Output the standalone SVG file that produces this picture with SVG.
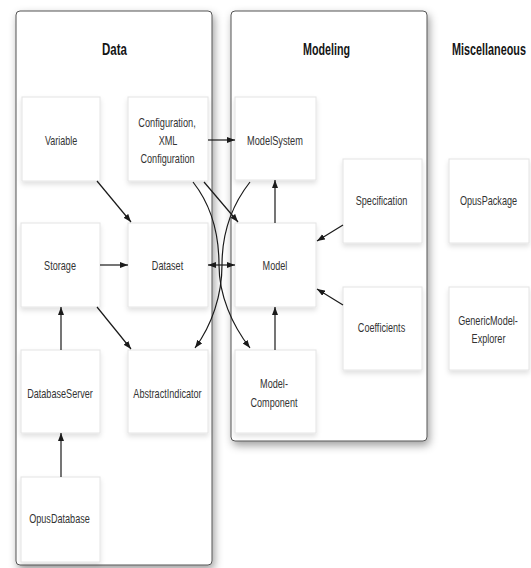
<svg xmlns="http://www.w3.org/2000/svg" width="531" height="568" viewBox="0 0 531 568">
<defs>
<filter id="panelShadow" x="-10%" y="-10%" width="130%" height="130%">
<feDropShadow dx="2" dy="4" stdDeviation="4" flood-color="#000" flood-opacity="0.38"/>
</filter>
<filter id="nodeShadow" x="-15%" y="-15%" width="140%" height="140%">
<feDropShadow dx="0" dy="3" stdDeviation="2.5" flood-color="#000" flood-opacity="0.12"/>
</filter>
<marker id="arr" markerUnits="userSpaceOnUse" markerWidth="9" markerHeight="7" refX="8" refY="3" orient="auto-start-reverse">
<path d="M0,0 L8,3 L0,6 z" fill="#1a1a1a"/>
</marker>
</defs>
<style>
.panel{fill:#fff;stroke:#555;stroke-width:1;filter:url(#panelShadow)}
.node rect{fill:#fff;stroke:#e4e4e4;stroke-width:1;filter:url(#nodeShadow)}
.title{font-family:"Liberation Sans",Arial,sans-serif;font-weight:bold;font-size:16px;fill:#151515;text-anchor:middle}
.lbl{font-family:"Liberation Sans",Arial,sans-serif;font-size:13px;fill:#333;text-anchor:middle}
.conn path{fill:none;stroke:#1a1a1a;stroke-width:1.2}
</style>
<rect width="531" height="568" fill="#fff"/>
<g id="panels">
<rect class="panel" x="16" y="11" width="196" height="554" rx="4"/>
<rect class="panel" x="231" y="11" width="196" height="430" rx="4"/>
</g>
<g id="titles">
<text class="title" transform="translate(114.5,55) scale(0.72,1)">Data</text>
<text class="title" transform="translate(326.5,55) scale(0.67,1)">Modeling</text>
<text class="title" transform="translate(489,55) scale(0.676,1)">Miscellaneous</text>
</g>
<g id="variable" class="node"><rect x="22" y="97" width="78" height="84"/><text class="lbl" transform="translate(61,144.5) scale(0.69,1)">Variable</text></g>
<g id="configuration" class="node"><rect x="128" y="97" width="80" height="84"/>
<text class="lbl" transform="translate(167,126.5) scale(0.71,1)">Configuration,</text>
<text class="lbl" transform="translate(168,144.5) scale(0.7,1)">XML</text>
<text class="lbl" transform="translate(167.5,162.5) scale(0.7,1)">Configuration</text></g>
<g id="storage" class="node"><rect x="21" y="223" width="79" height="84"/><text class="lbl" transform="translate(60,269.5) scale(0.7,1)">Storage</text></g>
<g id="dataset" class="node"><rect x="128" y="223" width="80" height="84"/><text class="lbl" transform="translate(167.5,269.5) scale(0.7,1)">Dataset</text></g>
<g id="databaseserver" class="node"><rect x="21" y="350" width="79" height="83"/><text class="lbl" transform="translate(60,397.5) scale(0.7,1)">DatabaseServer</text></g>
<g id="abstractindicator" class="node"><rect x="128" y="350" width="80" height="83"/><text class="lbl" transform="translate(167.5,397.5) scale(0.7,1)">AbstractIndicator</text></g>
<g id="opusdatabase" class="node"><rect x="21" y="477" width="79" height="85"/><text class="lbl" transform="translate(59.5,522.5) scale(0.7,1)">OpusDatabase</text></g>
<g id="modelsystem" class="node"><rect x="235" y="97" width="81" height="83"/><text class="lbl" transform="translate(275,144.5) scale(0.71,1)">ModelSystem</text></g>
<g id="model" class="node"><rect x="235" y="223" width="81" height="84"/><text class="lbl" transform="translate(275,269.5) scale(0.7,1)">Model</text></g>
<g id="modelcomponent" class="node"><rect x="235" y="350" width="81" height="83"/>
<text class="lbl" transform="translate(274,387.5) scale(0.7,1)">Model-</text>
<text class="lbl" transform="translate(274,406.5) scale(0.7,1)">Component</text></g>
<g id="specification" class="node"><rect x="343" y="159" width="79" height="84"/><text class="lbl" transform="translate(381.5,204.5) scale(0.7,1)">Specification</text></g>
<g id="coefficients" class="node"><rect x="343" y="287" width="79" height="83"/><text class="lbl" transform="translate(381.5,331.5) scale(0.7,1)">Coefficients</text></g>
<g id="opuspackage" class="node"><rect x="449" y="159" width="80" height="84"/><text class="lbl" transform="translate(488.5,204.5) scale(0.7,1)">OpusPackage</text></g>
<g id="genericmodelexplorer" class="node"><rect x="449" y="287" width="80" height="83"/>
<text class="lbl" transform="translate(488,324.5) scale(0.7,1)">GenericModel-</text>
<text class="lbl" transform="translate(488.5,342.5) scale(0.7,1)">Explorer</text></g>
<g id="connectors" class="conn">
<path d="M208,140 L235,140" marker-end="url(#arr)"/>
<path d="M97,181 L131,222" marker-end="url(#arr)"/>
<path d="M100,265 L128,265" marker-end="url(#arr)"/>
<path d="M97,307 L131,349" marker-end="url(#arr)"/>
<path d="M61,350 L61,307" marker-end="url(#arr)"/>
<path d="M61,477 L61,433" marker-end="url(#arr)"/>
<path d="M208,265 L235,265" marker-start="url(#arr)" marker-end="url(#arr)"/>
<path d="M204,182 L238,222" marker-end="url(#arr)"/>
<path d="M193,182 C215,210 219,240 219,265 C219,295 232,325 250,348" marker-end="url(#arr)"/>
<path d="M250,182 C228,210 222,240 222,265 C222,295 212,325 195,348" marker-end="url(#arr)"/>
<path d="M275,223 L275,180" marker-end="url(#arr)"/>
<path d="M275,350 L275,307" marker-end="url(#arr)"/>
<path d="M343,225 L317,241" marker-end="url(#arr)"/>
<path d="M343,305 L317,289" marker-end="url(#arr)"/>
</g>
</svg>
